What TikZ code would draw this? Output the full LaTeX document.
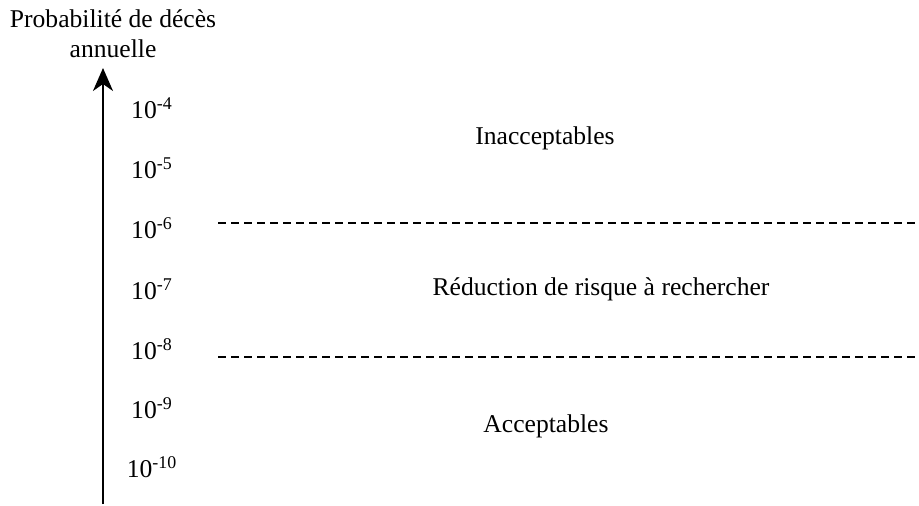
\documentclass[tikz,border=0pt]{standalone}
\usepackage{fontspec}
\setmainfont{Liberation Serif}
\usetikzlibrary{arrows.meta}

\begin{document}
\begin{tikzpicture}[x=0.5pt,y=-0.5pt,font=\fontsize{12.8}{15}\selectfont]
        \tikzset{
            expo/.style={anchor=center},
            zone/.style={anchor=base},
            limit/.style={line width=1pt,dash pattern=on 4pt off 2.5pt}
        }
        \useasboundingbox (0,0) rectangle (919,506);
        % axis title
        \node[zone] (title) at (113,28) {Probabilit\'e de d\'ec\`es};
        \node[zone] (title2) at (113,58) {annuelle};
        % axis
        \coordinate (base) at (103,504);
        \coordinate (top) at (103,68);
        \draw[line width=1pt,-{Stealth[length=11.5pt,width=10pt,inset=3.5pt]}] (base) -- (top);
        % exponents
        \node[expo] (p4) at (152,108) {10\textsuperscript{-4}};
        \node[expo] (p5) at (152,168) {10\textsuperscript{-5}};
        \node[expo] (p6) at (152,228) {10\textsuperscript{-6}};
        \node[expo] (p7) at (152,289) {10\textsuperscript{-7}};
        \node[expo] (p8) at (152,349) {10\textsuperscript{-8}};
        \node[expo] (p9) at (152,408) {10\textsuperscript{-9}};
        \node[expo] (p10) at (152,467) {10\textsuperscript{-10}};
        % thresholds
        \coordinate (h1a) at (218,223);
        \coordinate (h1b) at (919,223);
        \coordinate (h2a) at (218,357);
        \coordinate (h2b) at (919,357);
        \draw[limit] (h1a) -- (h1b);
        \draw[limit] (h2a) -- (h2b);
        % zones
        \node[zone] (inacc) at (545,145) {Inacceptables};
        \node[zone] (reduc) at (601,296) {R\'eduction de risque \`a rechercher};
        \node[zone] (acc) at (546,433) {Acceptables};
    \end{tikzpicture}
\end{document}
